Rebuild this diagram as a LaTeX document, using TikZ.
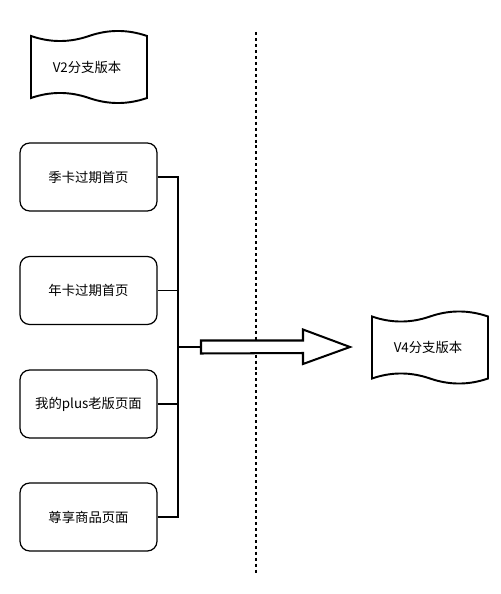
\documentclass[tikz,border=0pt]{standalone}
\usepackage{fontspec}
\setmainfont{Noto Sans CJK SC}
\begin{document}
\begin{tikzpicture}[x=0.02cm,y=-0.02cm,
  every node/.style={font=\fontsize{7.6}{9}\selectfont},
  box/.style={draw=black,line width=0.7pt,rounded corners=5.5pt,minimum width=137*0.02cm,minimum height=68*0.02cm,inner sep=0pt},
  tape/.style={draw=black,line width=1.1pt,fill=white},
  thickedge/.style={line width=1.15pt},
  thinedge/.style={line width=0.6pt},
  blockarrow/.style={draw=black,line width=1.15pt,fill=white,line join=miter},
  divider/.style={line width=0.6pt,dash pattern=on 1.7pt off 1.7pt}]
\useasboundingbox (0,0) rectangle (500,594);
% divider
\coordinate (dtop) at (256,32);
\coordinate (dbot) at (256,575);
\draw[divider] (dtop) -- (dbot);
% tapes
\newcommand\tapepath{(-58,-31) .. controls (-38.7,-24.3) and (-19.3,-24.3) .. (0,-31) .. controls (19.3,-37.7) and (38.7,-37.7) .. (58,-31) -- (58,31) .. controls (38.7,37.7) and (19.3,37.7) .. (0,31) .. controls (-19.3,24.3) and (-38.7,24.3) .. (-58,31) -- cycle}
\begin{scope}[shift={(89,67)}]
\draw[tape] \tapepath;
\end{scope}
\node (v2) at (87,67) {V2分支版本};
\begin{scope}[shift={(430,347.5)}]
\draw[tape] \tapepath;
\end{scope}
\node (v4) at (428,347.5) {V4分支版本};
% boxes
\node[box] (b1) at (88.5,177) {季卡过期首页};
\node[box] (b2) at (88.5,290.5) {年卡过期首页};
\node[box] (b3) at (88.5,404) {我的plus老版页面};
\node[box] (b4) at (88.5,517) {尊享商品页面};
% block arrow
\coordinate (atail) at (201,347);
\coordinate (atip) at (350,347);
\draw[blockarrow] (atail) ++(0,-6.5) -- ++(102,0) -- ++(0,-11) -- (atip) -- (303,364) -- ++(0,-11) -- (201,353.5) -- cycle;
% connectors
\draw[thinedge] (b2.east) -- (178,290.5) |- (atail);
\draw[thinedge] (b3.east) -- (178,404) |- (atail);
\draw[thickedge] (b1.east) -- (178,177) |- (atail);
\draw[thickedge] (b4.east) -- (178,517) |- (atail);
\end{tikzpicture}
\end{document}
